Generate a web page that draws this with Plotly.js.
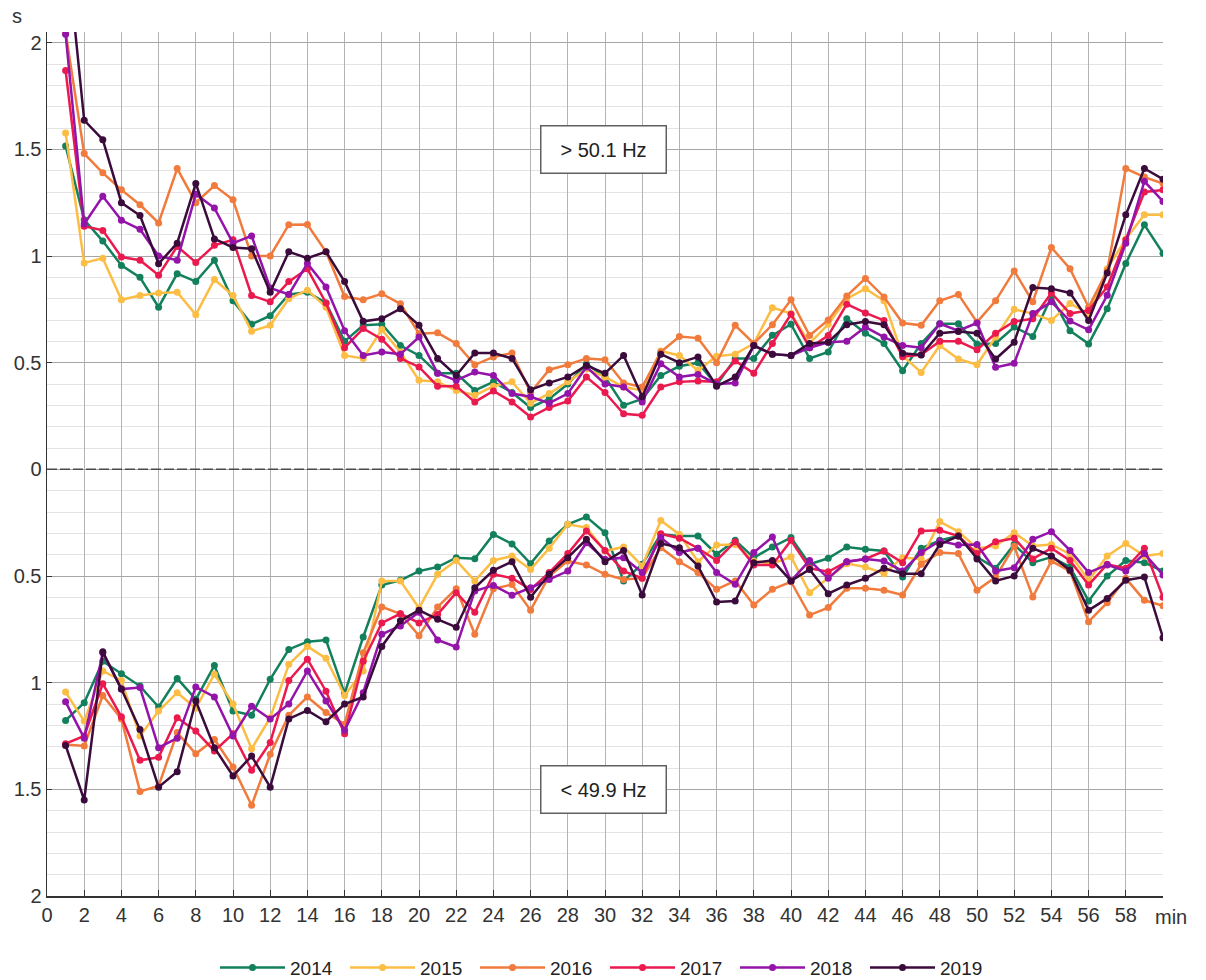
<!DOCTYPE html>
<html>
<head>
<meta charset="utf-8">
<script src="https://cdn.plot.ly/plotly-3.0.1.min.js"></script>
<style>html,body{margin:0;padding:0;background:#fff;}#chart{width:1206px;height:980px;}</style>
</head>
<body>
<div id="chart"></div>
<script>
// minutes 1..60
const minutes = [1,2,3,4,5,6,7,8,9,10,11,12,13,14,15,16,17,18,19,20,21,22,23,24,25,26,27,28,29,30,31,32,33,34,35,36,37,38,39,40,41,42,43,44,45,46,47,48,49,50,51,52,53,54,55,56,57,58,59,60];
const years = ["2014","2015","2016","2017","2018","2019"];
const colors = ["#13805d","#fcbd45","#f07b3c","#ea1a4f","#9413a9","#3a0b3b"];

// duration above 50.1 Hz (s)
const above2014 = [1.516,1.17,1.07,0.956,0.90,0.76,0.917,0.88,0.98,0.79,0.68,0.72,0.82,0.83,0.78,0.60,0.675,0.68,0.58,0.534,0.45,0.45,0.37,0.41,0.36,0.29,0.33,0.40,0.495,0.433,0.30,0.33,0.44,0.483,0.50,0.394,0.52,0.52,0.628,0.68,0.52,0.55,0.706,0.638,0.59,0.462,0.59,0.682,0.682,0.588,0.59,0.667,0.623,0.808,0.65,0.588,0.753,0.965,1.146,1.013];
const above2015 = [1.577,0.967,0.99,0.795,0.815,0.826,0.83,0.725,0.89,0.815,0.647,0.675,0.80,0.84,0.76,0.534,0.52,0.655,0.55,0.417,0.41,0.37,0.347,0.39,0.41,0.31,0.355,0.41,0.47,0.433,0.386,0.37,0.555,0.534,0.464,0.53,0.54,0.59,0.758,0.73,0.59,0.68,0.80,0.847,0.79,0.533,0.454,0.58,0.517,0.49,0.62,0.75,0.73,0.698,0.777,0.73,0.94,1.08,1.193,1.193];
const above2016 = [2.05,1.48,1.39,1.31,1.24,1.155,1.41,1.25,1.33,1.264,1.0,1.0,1.147,1.148,1.02,0.81,0.795,0.823,0.776,0.636,0.64,0.59,0.49,0.527,0.545,0.36,0.467,0.49,0.52,0.514,0.405,0.386,0.55,0.623,0.615,0.50,0.675,0.59,0.678,0.795,0.627,0.70,0.813,0.895,0.808,0.686,0.675,0.79,0.82,0.69,0.79,0.93,0.785,1.04,0.94,0.76,0.93,1.41,1.37,1.34];
const above2017 = [1.87,1.14,1.12,0.995,0.98,0.91,1.045,0.97,1.05,1.076,0.815,0.785,0.88,0.94,0.78,0.57,0.66,0.61,0.52,0.48,0.39,0.39,0.316,0.367,0.316,0.245,0.29,0.32,0.433,0.36,0.26,0.253,0.386,0.41,0.414,0.41,0.508,0.45,0.59,0.727,0.57,0.627,0.774,0.733,0.698,0.528,0.537,0.60,0.60,0.56,0.638,0.693,0.706,0.827,0.73,0.745,0.855,1.075,1.30,1.31];
const above2018 = [2.04,1.15,1.28,1.167,1.125,1.0,0.98,1.29,1.225,1.06,1.094,0.85,0.82,0.965,0.855,0.65,0.534,0.55,0.54,0.62,0.45,0.417,0.456,0.44,0.355,0.34,0.31,0.355,0.48,0.40,0.386,0.316,0.495,0.433,0.445,0.40,0.405,0.58,0.54,0.534,0.57,0.596,0.60,0.667,0.62,0.58,0.57,0.682,0.65,0.686,0.478,0.497,0.73,0.785,0.695,0.654,0.816,1.06,1.35,1.256];
const above2019 = [2.5,1.636,1.545,1.25,1.19,0.964,1.06,1.34,1.08,1.04,1.034,0.83,1.02,0.99,1.02,0.88,0.694,0.706,0.753,0.675,0.52,0.44,0.545,0.545,0.52,0.373,0.405,0.433,0.487,0.45,0.534,0.34,0.54,0.50,0.527,0.39,0.433,0.58,0.54,0.534,0.59,0.596,0.678,0.693,0.678,0.544,0.536,0.638,0.646,0.638,0.517,0.596,0.852,0.847,0.827,0.698,0.92,1.193,1.41,1.36];

// duration below 49.9 Hz (s), drawn downward
const below2014 = [1.177,1.094,0.90,0.958,1.016,1.114,0.98,1.078,0.92,1.133,1.153,0.984,0.844,0.808,0.80,1.05,0.786,0.542,0.52,0.477,0.458,0.414,0.419,0.305,0.35,0.442,0.336,0.258,0.223,0.297,0.523,0.445,0.305,0.3125,0.3125,0.398,0.333,0.414,0.364,0.32,0.445,0.417,0.364,0.375,0.383,0.505,0.37,0.333,0.3125,0.411,0.464,0.352,0.4375,0.411,0.458,0.617,0.50,0.427,0.4375,0.477];
const below2015 = [1.044,1.18,0.945,0.99,1.25,1.133,1.047,1.12,0.96,1.1,1.31,1.164,0.914,0.83,0.886,1.06,0.945,0.523,0.523,0.65,0.492,0.427,0.523,0.427,0.406,0.469,0.37,0.258,0.273,0.383,0.364,0.453,0.24,0.305,0.433,0.355,0.352,0.43,0.442,0.41,0.578,0.508,0.442,0.458,0.489,0.414,0.42,0.245,0.292,0.37,0.359,0.297,0.359,0.352,0.398,0.52,0.406,0.348,0.406,0.395];
const below2016 = [1.29,1.297,1.06,1.17,1.51,1.484,1.234,1.333,1.266,1.395,1.575,1.336,1.153,1.067,1.14,1.195,0.86,0.645,0.677,0.78,0.645,0.56,0.773,0.56,0.54,0.66,0.50,0.43,0.448,0.492,0.516,0.51,0.367,0.433,0.484,0.5625,0.523,0.636,0.5625,0.527,0.683,0.648,0.558,0.558,0.567,0.589,0.445,0.39,0.395,0.567,0.505,0.36,0.598,0.43,0.477,0.714,0.625,0.511,0.614,0.64];
const below2017 = [1.286,1.25,1.005,1.16,1.364,1.35,1.164,1.227,1.32,1.24,1.41,1.28,0.99,0.89,1.04,1.24,0.9,0.72,0.677,0.72,0.68,0.578,0.67,0.492,0.51,0.563,0.484,0.395,0.289,0.38,0.477,0.51,0.302,0.323,0.37,0.427,0.339,0.448,0.448,0.333,0.464,0.48,0.433,0.42,0.383,0.4375,0.289,0.286,0.3125,0.395,0.339,0.323,0.42,0.37,0.427,0.542,0.445,0.464,0.37,0.6];
const below2018 = [1.09,1.26,0.86,1.03,1.023,1.305,1.26,1.02,1.067,1.25,1.11,1.17,1.1,0.945,1.086,1.223,1.047,0.773,0.734,0.67,0.8,0.833,0.57,0.544,0.59,0.555,0.516,0.477,0.344,0.422,0.414,0.484,0.32,0.39,0.37,0.484,0.539,0.39,0.317,0.523,0.427,0.511,0.433,0.42,0.43,0.477,0.39,0.336,0.355,0.352,0.477,0.461,0.328,0.292,0.38,0.484,0.448,0.477,0.395,0.495];
const below2019 = [1.294,1.55,0.855,1.03,1.22,1.49,1.417,1.086,1.305,1.437,1.344,1.49,1.17,1.13,1.183,1.1,1.067,0.83,0.71,0.66,0.703,0.74,0.555,0.473,0.433,0.6,0.492,0.414,0.328,0.433,0.38,0.589,0.348,0.367,0.453,0.622,0.617,0.4375,0.427,0.523,0.469,0.583,0.542,0.511,0.464,0.489,0.489,0.352,0.3125,0.42,0.523,0.5,0.37,0.406,0.473,0.661,0.605,0.52,0.505,0.789];

const aboveSeries = [above2014,above2015,above2016,above2017,above2018,above2019];
const belowSeries = [below2014,below2015,below2016,below2017,below2018,below2019];

const xTickVals = [0,2,4,6,8,10,12,14,16,18,20,22,24,26,28,30,32,34,36,38,40,42,44,46,48,50,52,54,56,58];
const yTickVals = [-2,-1.5,-1,-0.5,0,0.5,1,1.5,2];
const yTickText = ["2","1.5","1","0.5","0","0.5","1","1.5","2"];

const FONT = "'Liberation Sans', Arial, Helvetica, sans-serif";

const traces = years.map((yr, i) => ({
  type: "scatter",
  mode: "lines+markers",
  name: yr,
  x: minutes.concat([null], minutes),
  y: aboveSeries[i].concat([null], belowSeries[i].map(v => -v)),
  connectgaps: false,
  line: {color: colors[i], width: 2.5},
  marker: {color: colors[i], size: 7},
  hoverinfo: "skip"
}));

const layout = {
  width: 1206,
  height: 980,
  paper_bgcolor: "#ffffff",
  plot_bgcolor: "#ffffff",
  margin: {l: 47, r: 43, t: 32, b: 84, pad: 0, autoexpand: false},
  font: {family: FONT, size: 20, color: "#333333"},
  showlegend: true,
  legend: {
    orientation: "h",
    x: 0.5, xanchor: "center",
    y: -0.083, yanchor: "middle",
    font: {family: FONT, size: 19, color: "#222222"},
    bgcolor: "rgba(0,0,0,0)",
    itemwidth: 65,
    entrywidth: 50
  },
  xaxis: {
    range: [0, 60],
    tickmode: "array",
    tickvals: xTickVals,
    ticktext: xTickVals.map(String),
    showgrid: true,
    gridcolor: "#b4b4b4",
    gridwidth: 1,
    zeroline: false,
    showline: true,
    linecolor: "#333333",
    linewidth: 1.5,
    ticks: "inside",
    ticklen: 6,
    tickcolor: "#333333",
    tickfont: {family: FONT, size: 20, color: "#333333"},
    fixedrange: true
  },
  yaxis: {
    range: [-2, 2.05],
    tickmode: "array",
    tickvals: yTickVals,
    ticktext: yTickText,
    showgrid: true,
    gridcolor: "#a6a6a6",
    gridwidth: 1,
    zeroline: false,
    showline: true,
    linecolor: "#333333",
    linewidth: 1.5,
    ticks: "inside",
    ticklen: 5,
    tickcolor: "#333333",
    tickfont: {family: FONT, size: 20, color: "#333333"},
    minor: {tickmode: "linear", tick0: 0, dtick: 0.1, showgrid: true, gridcolor: "#e3e3e3", gridwidth: 1, ticks: ""},
    fixedrange: true
  },
  shapes: [
    {type: "line", xref: "x", yref: "y", x0: 0, x1: 60, y0: 0, y1: 0, layer: "above",
     line: {color: "#4a4a4a", width: 1.5, dash: "10px,3px"}}
  ],
  annotations: [
    {text: "s", xref: "paper", yref: "paper", x: -0.027, y: 1.0185, xanchor: "center", yanchor: "middle",
     showarrow: false, font: {family: FONT, size: 20, color: "#333333"}},
    {text: "min", xref: "x", yref: "paper", x: 60, y: 0, xanchor: "center", yanchor: "top", xshift: 8, yshift: -8,
     showarrow: false, font: {family: FONT, size: 20, color: "#333333"}},
    {text: "> 50.1 Hz", xref: "x", yref: "y", x: 29.9, y: 1.5, xanchor: "center", yanchor: "middle",
     showarrow: false, bgcolor: "#ffffff", bordercolor: "#606060", borderwidth: 1.5, borderpad: 2,
     width: 120, height: 42, font: {family: FONT, size: 20, color: "#222222"}},
    {text: "< 49.9 Hz", xref: "x", yref: "y", x: 29.9, y: -1.5, xanchor: "center", yanchor: "middle",
     showarrow: false, bgcolor: "#ffffff", bordercolor: "#606060", borderwidth: 1.5, borderpad: 2,
     width: 120, height: 42, font: {family: FONT, size: 20, color: "#222222"}}
  ]
};

Plotly.newPlot("chart", traces, layout, {displayModeBar: false, staticPlot: true});
</script>
</body>
</html>
